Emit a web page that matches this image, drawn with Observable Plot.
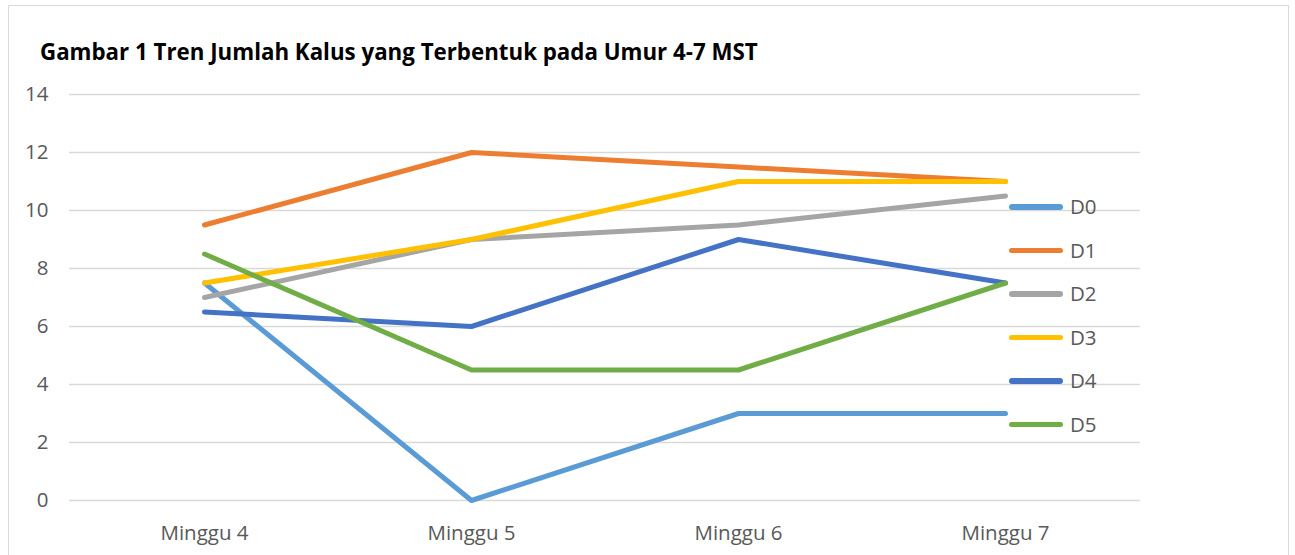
<!DOCTYPE html>
<html>
<head>
<meta charset="utf-8">
<script src="https://cdn.jsdelivr.net/npm/d3@7"></script>
<script src="https://cdn.jsdelivr.net/npm/@observablehq/plot@0.6"></script>
<style>
  html, body { margin: 0; padding: 0; background: #fff; }
  #wrap { position: relative; width: 1295px; height: 555px; overflow: hidden; font-family: "Open Sans", sans-serif; }
  #frame { position: absolute; left: 8px; top: 5px; width: 1281px; height: 570px; border: 1.5px solid #d9d9d9; box-sizing: border-box; }
  #title { position: absolute; left: 40px; top: 36px; font-size: 22.3px; font-weight: bold; color: #000; white-space: nowrap; }
  #chart { position: absolute; left: 0; top: 0; }
  #legend { position: absolute; left: 1009px; top: 195px; }
  .item { position: relative; height: 43.6px; display: flex; align-items: flex-start; }
  .sw { width: 54px; height: 5.5px; border-radius: 3px; margin-top: 9px; }
  .lab { margin-left: 7px; font-size: 20.5px; color: #595959; line-height: 22px; margin-top: 0px; }
</style>
</head>
<body>
<div id="wrap">
  <div id="frame"></div>
  <div id="chart"></div>
  <div id="title">Gambar 1 Tren Jumlah Kalus yang Terbentuk pada Umur 4-7 MST</div>
  <div id="legend"></div>
</div>
<script>
const weeks = ["Minggu 4", "Minggu 5", "Minggu 6", "Minggu 7"];
const seriesNames = ["D0", "D1", "D2", "D3", "D4", "D5"];
const D0 = [7.5, 0, 3, 3];
const D1 = [9.5, 12, 11.5, 11];
const D2 = [7, 9, 9.5, 10.5];
const D3 = [7.5, 9, 11, 11];
const D4 = [6.5, 6, 9, 7.5];
const D5 = [8.5, 4.5, 4.5, 7.5];
const colors = ["#5B9BD5", "#ED7D31", "#A5A5A5", "#FFC000", "#4472C4", "#70AD47"];
const yTicks = [0, 2, 4, 6, 8, 10, 12, 14];

const seriesValues = [D0, D1, D2, D3, D4, D5];
const rows = [];
seriesNames.forEach((s, i) => weeks.forEach((w, j) => rows.push({series: s, week: w, value: seriesValues[i][j]})));

const chart = Plot.plot({
  width: 1295,
  height: 555,
  marginLeft: 69,
  marginRight: 155,
  marginTop: 94,
  marginBottom: 55,
  style: {background: "transparent", fontFamily: "'Open Sans', sans-serif", fontSize: "20.5px"},
  x: {type: "point", domain: weeks, padding: 0.5, label: null},
  y: {domain: [0, 14], label: null},
  color: {domain: seriesNames, range: colors},
  marks: [
    Plot.ruleY(yTicks, {stroke: "#d9d9d9", strokeWidth: 1.5}),
    Plot.axisY({ticks: yTicks, tickSize: 0, tickPadding: 21, fontSize: 20.5, color: "#595959", label: null}),
    Plot.axisX({tickSize: 0, tickPadding: 25, fontSize: 20.5, color: "#595959", label: null}),
    Plot.line(rows, {x: "week", y: "value", z: "series", stroke: "series", strokeWidth: 5, strokeLinecap: "round", strokeLinejoin: "round"})
  ]
});
chart.querySelectorAll("text").forEach(t => { t.setAttribute("fill", "#595959"); t.style.fontSize = "20.5px"; });
document.getElementById("chart").appendChild(chart);

const legend = document.getElementById("legend");
seriesNames.forEach((s, i) => {
  const it = document.createElement("div");
  it.className = "item";
  it.innerHTML = `<div class="sw" style="background:${colors[i]}"></div><div class="lab">${s}</div>`;
  legend.appendChild(it);
});
</script>
</body>
</html>
